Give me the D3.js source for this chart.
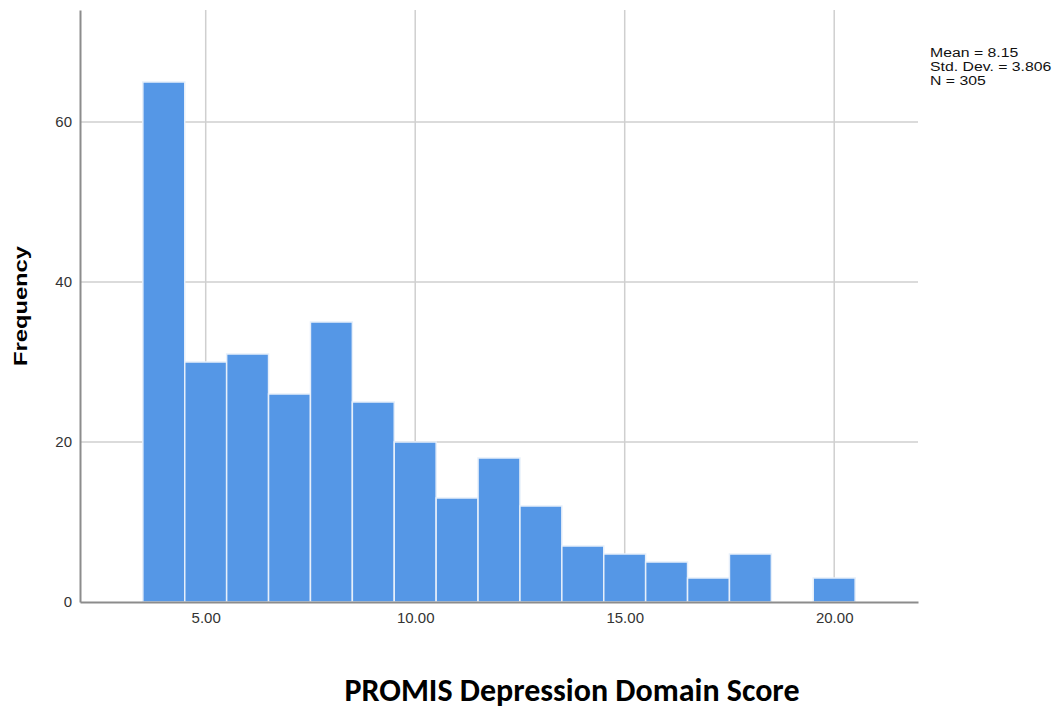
<!DOCTYPE html>
<html>
<head>
<meta charset="utf-8">
<script src="https://cdn.jsdelivr.net/npm/d3@7"></script>
<style>
    body { margin: 0; background: #fff; }
    svg text { font-family: "Liberation Sans", Arial, sans-serif; }
</style>
</head>
<body>
<svg id="chart"></svg>
<script>
const width = 1056;
const height = 709;

// histogram data (bin centre, frequency), bin width 1
const binCenters = [4, 5, 6, 7, 8, 9, 10, 11, 12, 13, 14, 15, 16, 17, 18, 19, 20];
const frequencies = [65, 30, 31, 26, 35, 25, 20, 13, 18, 12, 7, 6, 5, 3, 6, 0, 3];
const xTicks = [5, 10, 15, 20];
const yTicks = [0, 20, 40, 60];
const statLines = ["Mean = 8.15", "Std. Dev. = 3.806", "N = 305"];

const svg = d3.select("#chart")
    .attr("width", width)
    .attr("height", height);

const x = d3.scaleLinear().domain([2, 22]).range([80, 918]);
const y = d3.scaleLinear().domain([0, 74]).range([602, 10]);

// gridlines
svg.append("g").selectAll("line.vgrid")
    .data(xTicks)
    .join("line")
    .attr("x1", d => x(d)).attr("x2", d => x(d))
    .attr("y1", y(74)).attr("y2", y(0))
    .attr("stroke", "#cfcfcf")
    .attr("stroke-width", 1.5);

svg.append("g").selectAll("line.hgrid")
    .data(yTicks.filter(d => d > 0))
    .join("line")
    .attr("x1", x(2)).attr("x2", x(22))
    .attr("y1", d => y(d)).attr("y2", d => y(d))
    .attr("stroke", "#cfcfcf")
    .attr("stroke-width", 1.5);

// bars
svg.append("g").selectAll("rect")
    .data(binCenters.map((c, i) => ({c: c, f: frequencies[i]})).filter(d => d.f > 0))
    .join("rect")
    .attr("x", d => x(d.c - 0.5))
    .attr("width", d => x(d.c + 0.5) - x(d.c - 0.5))
    .attr("y", d => y(d.f))
    .attr("height", d => y(0) - y(d.f))
    .attr("fill", "#5597e6")
    .attr("stroke", "#e6effa")
    .attr("stroke-width", 1.5);

// axes
const xAxis = svg.append("g")
    .attr("transform", `translate(0,${y(0)})`)
    .call(d3.axisBottom(x).tickValues(xTicks).tickFormat(d3.format(".2f")).tickSize(0).tickPadding(10));
xAxis.select(".domain").attr("stroke", "#8c8c8c").attr("stroke-width", 2);
xAxis.selectAll("text").attr("font-size", 15).attr("fill", "#333");

const yAxis = svg.append("g")
    .attr("transform", `translate(${x(2)},0)`)
    .call(d3.axisLeft(y).tickValues(yTicks).tickSize(0).tickPadding(8));
yAxis.select(".domain").attr("stroke", "#8c8c8c").attr("stroke-width", 2);
yAxis.selectAll("text").attr("font-size", 15).attr("fill", "#333");

// axis titles
svg.append("text")
    .attr("transform", `translate(27,306) rotate(-90)`)
    .attr("text-anchor", "middle")
    .attr("font-size", 18)
    .attr("font-weight", "bold")
    .attr("fill", "#000")
    .attr("textLength", 120)
    .attr("lengthAdjust", "spacingAndGlyphs")
    .text("Frequency");

svg.append("text")
    .attr("x", 572)
    .attr("y", 701)
    .attr("text-anchor", "middle")
    .attr("font-size", 32)
    .attr("font-weight", "bold")
    .style("font-family", "Carlito, Calibri, 'Liberation Sans', sans-serif")
    .attr("fill", "#000")
    .text("PROMIS Depression Domain Score");

// stats box (wide, tight lines like the original)
svg.append("g")
    .attr("transform", "translate(930,0) scale(1.17,1)")
    .selectAll("text")
    .data(statLines)
    .join("text")
    .attr("x", 0)
    .attr("y", (d, i) => 57 + i * 14)
    .attr("font-size", 13.5)
    .attr("fill", "#111")
    .text(d => d);
</script>
</body>
</html>
